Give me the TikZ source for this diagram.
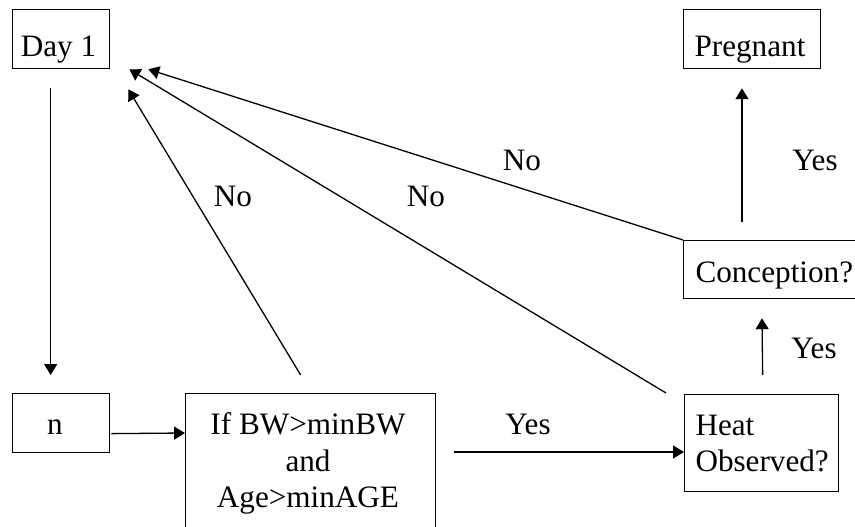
\documentclass[tikz,border=0pt]{standalone}
\usepackage{fontspec}
\setmainfont{Liberation Serif}
\usetikzlibrary{arrows.meta,calc}
\begin{document}
\begin{tikzpicture}[x=0.385pt,y=-0.385pt,
  box/.style={draw,line width=0.5pt,inner sep=0pt,anchor=north west},
  txt/.style={inner sep=0pt,font=\fontsize{12}{14.2}\selectfont},
  arr/.style={line width=0.5pt,-{Triangle[length=4.2pt,width=5pt]}}]
\useasboundingbox (0,0) rectangle (855,527);
\clip (0,0) rectangle (855,527);
% boxes
\node[box,minimum width={97*0.385pt},minimum height={59*0.385pt}] (day) at (12,9) {};
\node[box,minimum width={137*0.385pt},minimum height={59*0.385pt}] (preg) at (683,9) {};
\node[box,minimum width={190*0.385pt},minimum height={58*0.385pt}] (conc) at (683,240) {};
\node[box,minimum width={154*0.385pt},minimum height={97*0.385pt}] (heat) at (684,394) {};
\node[box,minimum width={97*0.385pt},minimum height={59*0.385pt}] (n) at (12,393) {};
\node[box,minimum width={250*0.385pt},minimum height={160*0.385pt}] (iff) at (185,393) {};
% box texts
\node[txt,anchor=base] (dayt) at (58.5,57) {Day 1};
\node[txt,anchor=base] (pregt) at (750,57) {Pregnant};
\node[txt,anchor=base west] (conct) at (695,283) {Conception?};
\node[txt,anchor=base west,align=left] (heatt) at (695,472) {Heat\\Observed?};
\node[txt,anchor=base] (nt) at (55,435) {n};
\node[txt,anchor=base,align=center] (ifft) at (308,508) {If BW>minBW\\and\\Age>minAGE};
% labels
\node[txt,anchor=base] (y1) at (528,435) {Yes};
\node[txt,anchor=base] (y2) at (814,359) {Yes};
\node[txt,anchor=base] (y3) at (815,171) {Yes};
\node[txt,anchor=base] (no1) at (522,171) {No};
\node[txt,anchor=base] (no2) at (426,207) {No};
\node[txt,anchor=base] (no3) at (233,207) {No};
% connectors
\draw[arr] ($(day.south)+(-10.5,19)$) -- ($(n.north)+(-10.5,-18)$);
\draw[arr] ($(n.east)+(1,10.5)$) -- ($(iff.north west)+(0,40)$);
\draw[arr] ($(iff.north east)+(18,59)$) -- ($(heat.north west)+(0,58)$);
\draw[arr] ($(heat.north)+(1,-19)$) -- ($(conc.south west)+(79,19)$);
\draw[arr] ($(conc.north west)+(59,-18)$) -- ($(preg.south west)+(59,19)$);
\draw[arr] (conc.north west) -- ($(day.south east)+(38,0)$);
\draw[arr] ($(heat.north west)+(-18,-1)$) -- ($(day.south east)+(19,0)$);
\draw[arr] ($(iff.north)+(-10,-18)$) -- ($(day.south east)+(18,20)$);
\end{tikzpicture}
\end{document}
